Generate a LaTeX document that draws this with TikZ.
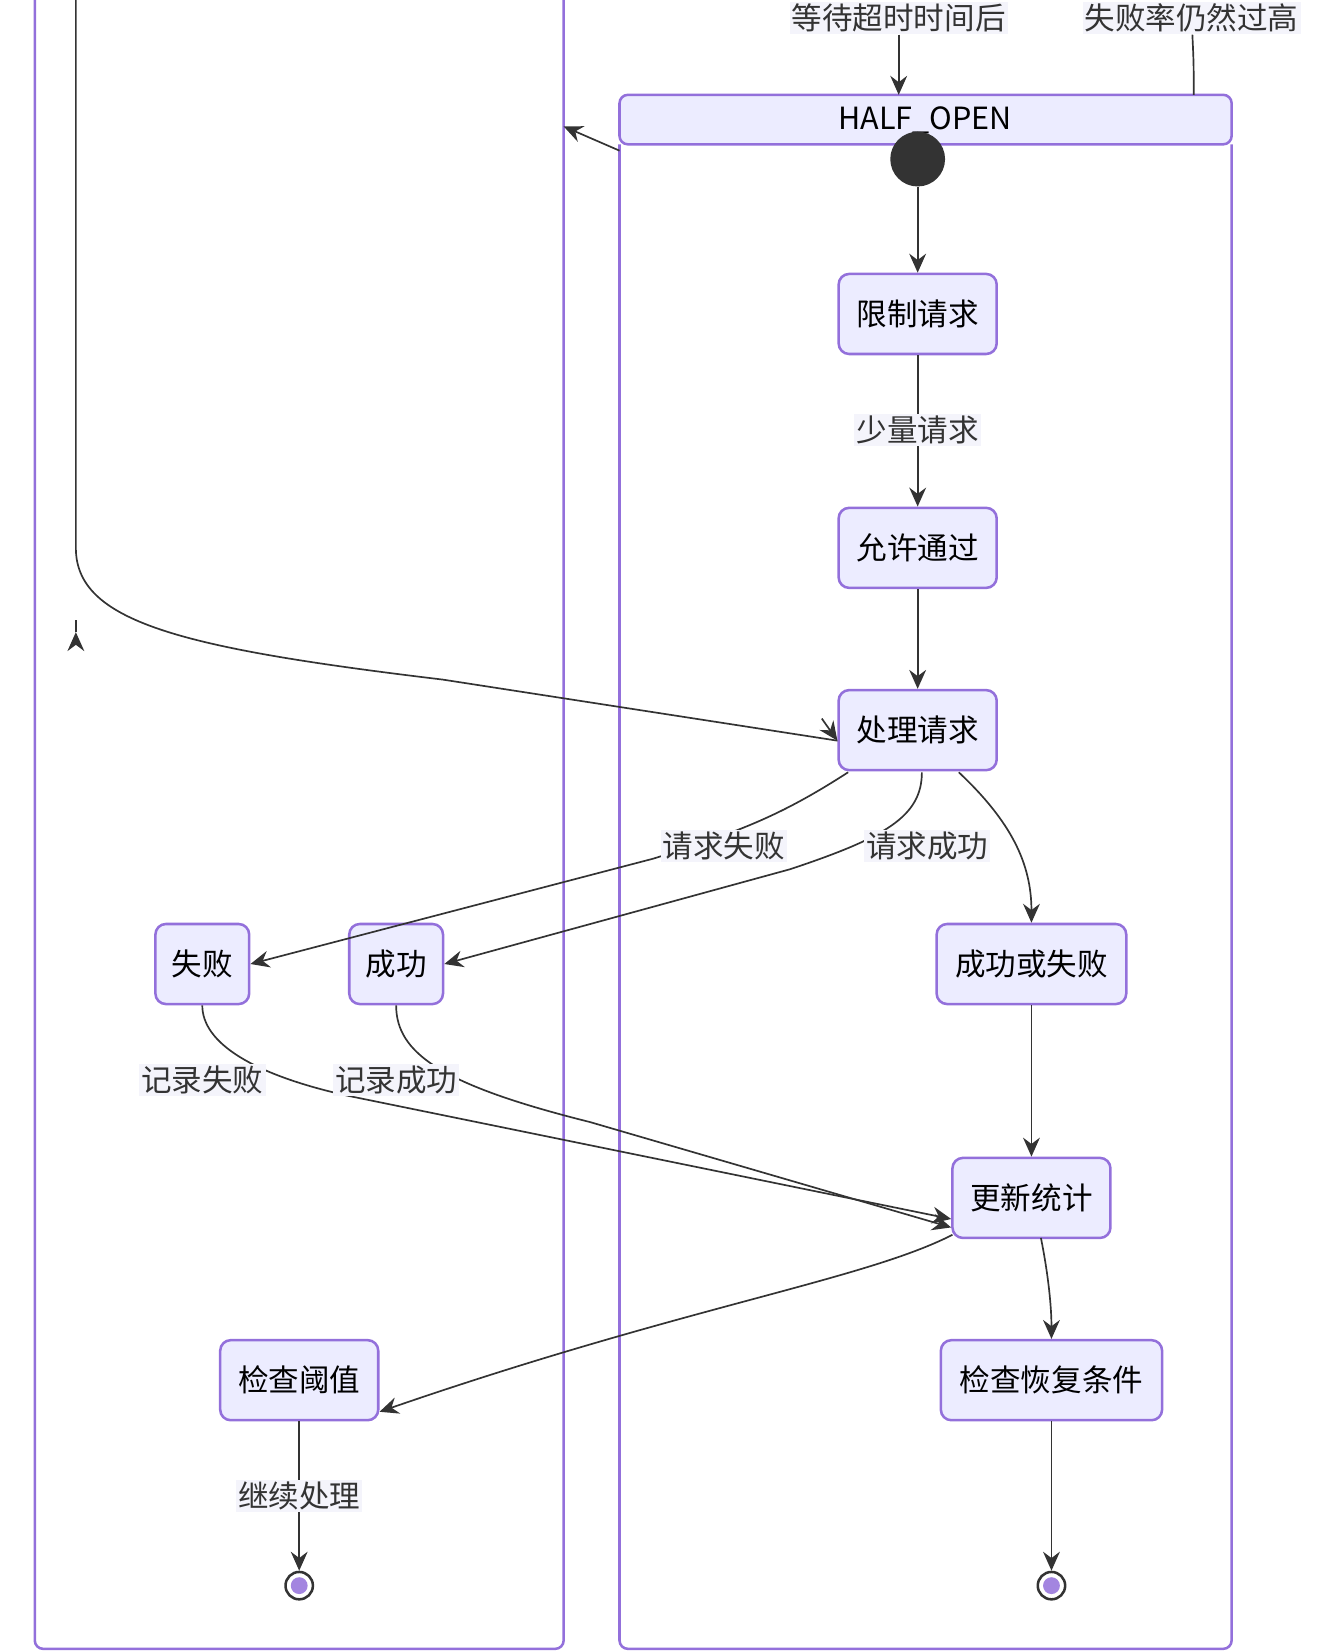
\documentclass[tikz,border=0pt]{standalone}
\usepackage{fontspec}
\setmainfont{Noto Sans CJK SC}
\usetikzlibrary{arrows.meta}
\definecolor{nfill}{HTML}{ECECFF}
\definecolor{nbord}{HTML}{9370DB}
\definecolor{ln}{HTML}{333333}
\definecolor{lbg}{HTML}{F4F4FB}
\tikzset{
 st/.style={draw=nbord,fill=nfill,line width=1.2pt,rounded corners=5pt,minimum height=38pt,inner xsep=7pt,font=\fontsize{14.5}{16}\selectfont},
 lb/.style={fill=lbg,inner sep=1pt,font=\fontsize{14.5}{16}\selectfont,text=ln},
 ed/.style={draw=ln,line width=0.8pt,-{Stealth[length=9pt,width=8pt,inset=3pt]}},
 pl/.style={draw=ln,line width=0.8pt},
 frame/.style={draw=nbord,line width=1.2pt,rounded corners=4pt},
}
\begin{document}
\begin{tikzpicture}[x=0.5pt,y=-0.5pt]
\useasboundingbox (0,0) rectangle (1251,1568);
% left frame
\draw[frame] (33,-20) -- (33,1565) -- (535,1565) -- (535,-20);
% half open frame
\draw[frame,fill=nfill] (588,137) -- (588,90) -- (1169,90) -- (1169,137) -- cycle;
\draw[frame] (588,137) -- (588,1565) -- (1169,1565) -- (1169,137);
\node[font=\fontsize{14.5}{16}\selectfont] (ho) at (878,114) {HALF\_OPEN};
\coordinate (hotop) at (853,90);
\coordinate (hotop2) at (1133,90);
\coordinate (holeft) at (588,143);
\coordinate (lfr) at (535,120);
\coordinate (ltop) at (72,-5);
\node[circle,fill=ln,minimum size=26pt*0.5*2,inner sep=0] (s) at (871,151) {};
\node[st,minimum width=75pt] (a) at (871,298) {限制请求};
\node[st,minimum width=75pt] (b) at (871,520) {允许通过};
\node[st,minimum width=75pt] (c) at (871,693) {处理请求};
\node[st,minimum width=90pt] (d) at (979,915) {成功或失败};
\node[st,minimum width=44.5pt] (f) at (192,915) {失败};
\node[st,minimum width=44.5pt] (g) at (376,915) {成功};
\node[st,minimum width=75pt] (u) at (979,1137) {更新统计};
\node[st,minimum width=75pt] (t) at (284,1310) {检查阈值};
\node[st,minimum width=105pt] (r) at (998,1310) {检查恢复条件};
\foreach \n/\x in {e1/284,e2/998}{
 \node[circle,draw=ln,line width=1.2pt,fill=white,minimum size=13pt,inner sep=0] (\n) at (\x,1505) {};
 \node[circle,fill=nbord!85,minimum size=8pt,inner sep=0] at (\x,1505) {};}
% edges
\draw[pl] (ltop) -- (72,520) .. controls (72,590) and (170,615) .. (420,645) -- ([yshift=-5]c.west);
\draw[ed] (ltop) ++(0,0) (72,600) -- (72,600);
\draw[ed] (420,645) ++(0,0) (780,682) -- ([yshift=-5]c.west);
\node[lb] (l1) at (853,17) {等待超时时间后};
\draw[ed] (l1) -- (hotop);
\node[lb] (l2) at (1131,17) {失败率仍然过高};
\draw[pl] (l2) .. controls (1133,60) .. (hotop2);
\draw[ed] (holeft) -- (lfr);
\draw[ed] (s) -- (a);
\draw[pl] (a) -- (871,400);
\draw[ed] (871,410) -- (b);
\node[lb] at (871,408) {少量请求};
\draw[ed] (b) -- (c);
\draw[ed] (805,733) .. controls (740,775) and (700,790) .. (620,815) -- (f.east);
\draw[ed] (875,733) .. controls (875,775) and (840,795) .. (750,825) -- (g.east);
\node[lb] at (687,803) {请求失败};
\node[lb] at (880,803) {请求成功};
\draw[ed] (910,733) .. controls (960,780) and (979,820) .. (d.north);
\draw[ed] (f.south) .. controls (192,990) and (240,1020) .. (330,1040) -- ([yshift=-10]u.west);
\draw[ed] (g.south) .. controls (376,1000) and (420,1030) .. (560,1065) -- ([yshift=-14]u.west);
\node[lb] at (192,1025) {记录失败};
\node[lb] at (376,1025) {记录成功};
\draw[ed] (d) -- (u);
\draw[ed] (904,1172) .. controls (820,1215) and (650,1240) .. ([yshift=-15]t.east);
\draw[ed] (988,1175) .. controls (995,1210) and (998,1240) .. (r.north);
\draw[ed] (t) -- (e1);
\node[lb] at (284,1420) {继续处理};
\draw[ed] (r) -- (e2);
\end{tikzpicture}
\end{document}
